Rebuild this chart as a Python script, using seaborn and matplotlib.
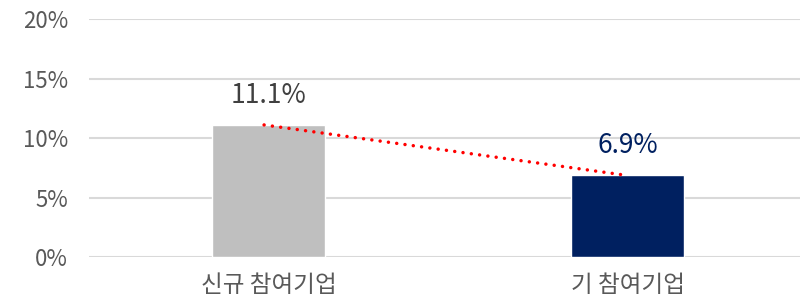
import matplotlib
matplotlib.use('Agg')
import matplotlib.pyplot as plt
import seaborn as sns

# ========== Data ==========

categories = ['신규 참여기업', '기 참여기업']
values = [11.1, 6.9]
bar_colors = ['#BFBFBF', '#002060']
label_colors = ['#404040', '#002060']
label_weights = ['light', 'normal']
y_ticks = [0, 5, 10, 15, 20]

# ========== Style ==========

sns.set_style('white')
plt.rcParams['font.family'] = ['Noto Sans CJK KR', 'DejaVu Sans']

# ========== Plot ==========

fig = plt.figure(figsize=(8, 3.02), dpi=100)
ax = fig.add_axes([0.111, 0.149, 0.889, 0.788])

sns.barplot(x=categories, y=values, hue=categories, palette=bar_colors,
            width=0.315, dodge=False, legend=False, saturation=1, ax=ax, zorder=3)

# Red dotted trend line between bar tops
ax.plot([i - 0.012 for i in range(len(values))], values, color='#FF0000',
        linestyle=(0, (0.01, 2.4)), linewidth=2.5, dash_capstyle='round', zorder=4)

# Value labels
for i, v in enumerate(values):
    ax.text(i, v + 2.5, f'{v:.1f}%', ha='center', va='center',
            fontsize=19, color=label_colors[i], fontweight=label_weights[i])

ax.set_ylim(0, 20)
ax.set_xlim(-0.5, 1.48)
ax.set_yticks(y_ticks)
ax.set_yticklabels([f'{t}%' for t in y_ticks], fontweight='light')
ax.set_xticks(range(len(categories)))
ax.set_xticklabels(categories, fontweight='light')
ax.yaxis.grid(True, color='#D9D9D9', linewidth=1.5, zorder=0)
ax.set_axisbelow(True)
ax.tick_params(axis='y', length=0, pad=15, labelsize=16, labelcolor='#595959')
ax.tick_params(axis='x', length=0, pad=12, labelsize=17, labelcolor='#595959')
for spine in ax.spines.values():
    spine.set_visible(False)
ax.set_xlabel('')
ax.set_ylabel('')

fig.savefig('out.png', dpi=100)
